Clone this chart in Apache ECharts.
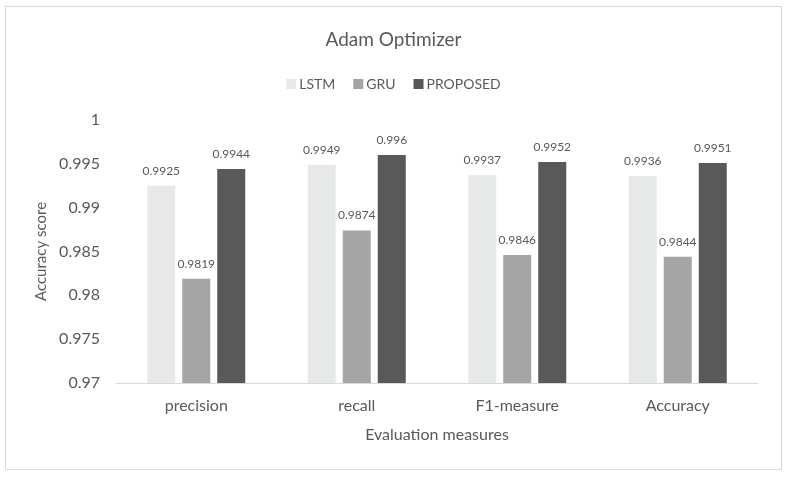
<!DOCTYPE html>
<html><head><meta charset="utf-8">
<script src="https://cdn.jsdelivr.net/npm/echarts@6/dist/echarts.min.js"></script>
<style>html,body{margin:0;padding:0;background:#fff}#c{width:787px;height:477px}</style>
</head><body><div id="c"></div>
<script>
const categories = ['precision', 'recall', 'F1-measure', 'Accuracy'];
const seriesNames = ['LSTM', 'GRU', 'PROPOSED'];
const lstm = [0.9925, 0.9949, 0.9937, 0.9936];
const gru = [0.9819, 0.9874, 0.9846, 0.9844];
const proposed = [0.9944, 0.996, 0.9952, 0.9951];
const colors = ['#e7e9e8', '#a5a5a5', '#595959'];
const font = 'Lato, "Open Sans", sans-serif';
const chart = echarts.init(document.getElementById('c'));
const vals = [lstm, gru, proposed];
chart.setOption({
  animation: false,
  textStyle: {fontFamily: font},
  graphic: [{type: 'rect', shape: {x: 5.5, y: 6.5, width: 776, height: 463}, style: {fill: 'none', stroke: '#d9d9d9', lineWidth: 1}}],
  title: {text: 'Adam Optimizer', left: 'center', top: 25, textStyle: {fontFamily: font, fontSize: 19, fontWeight: 'normal', color: '#595959'}},
  legend: {top: 72, left: 'center', itemWidth: 10, itemHeight: 10, itemGap: 18, icon: 'rect',
    textStyle: {fontFamily: font, fontSize: 14, color: '#595959', padding: [0,0,0,-2]}, data: seriesNames},
  grid: {left: 116, right: 29, top: 120, bottom: 94},
  xAxis: {type: 'category', data: categories, name: 'Evaluation measures', nameLocation: 'middle', nameGap: 44,
    nameTextStyle: {fontFamily: font, fontSize: 16, color: '#595959'},
    axisLine: {lineStyle: {color: '#d9d9d9', width: 1}}, axisTick: {show: false},
    axisLabel: {fontFamily: font, fontSize: 16, color: '#595959', margin: 15}},
  yAxis: {type: 'value', min: 0.97, max: 1, interval: 0.005, name: 'Accuracy score', nameLocation: 'middle', nameGap: 64,
    nameTextStyle: {fontFamily: font, fontSize: 15, color: '#595959'},
    splitLine: {show: false}, axisLine: {show: false}, axisTick: {show: false},
    axisLabel: {fontFamily: font, fontSize: 16, color: '#595959', margin: 16, formatter: v => String(+v.toFixed(3))}},
  series: seriesNames.map((n, i) => ({
    name: n, type: 'bar', data: vals[i], barWidth: 28, barGap: '25%',
    itemStyle: {color: colors[i]},
    label: {show: true, position: 'top', distance: 9, fontFamily: font, fontSize: 12, color: '#595959'}
  }))
});
</script></body></html>
